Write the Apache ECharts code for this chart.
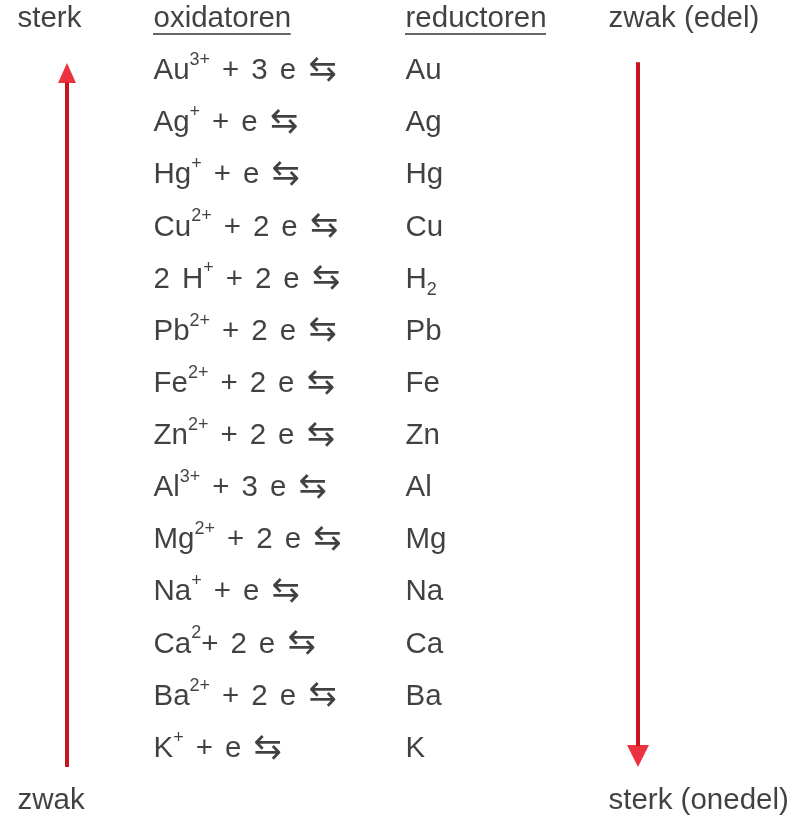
<!DOCTYPE html>
<html>
<head>
<meta charset="utf-8">
<title>oxidatoren en reductoren</title>
<script src="https://cdn.jsdelivr.net/npm/echarts@6/dist/echarts.min.js"></script>
<style>
html, body { margin: 0; padding: 0; background: #fff; }
#chart { width: 792px; height: 817px; }
</style>
</head>
<body>
<div id="chart"></div>
<script>
// kopregel en voetregel (per kolom)
var koppen = ['sterk', 'oxidatoren', 'reductoren', 'zwak (edel)'];
var voet = ['zwak', '', '', 'sterk (onedel)'];
// {..} = superscript, [..] = subscript
var oxidatoren = ['Au{3+} + 3 e', 'Ag{+} + e', 'Hg{+} + e', 'Cu{2+} + 2 e', '2 H{+} + 2 e',
    'Pb{2+} + 2 e', 'Fe{2+} + 2 e', 'Zn{2+} + 2 e', 'Al{3+} + 3 e', 'Mg{2+} + 2 e',
    'Na{+} + e', 'Ca{2}+ 2 e', 'Ba{2+} + 2 e', 'K{+} + e'];
var reductoren = ['Au', 'Ag', 'Hg', 'Cu', 'H[2]', 'Pb', 'Fe', 'Zn', 'Al', 'Mg', 'Na', 'Ca', 'Ba', 'K'];

// layout
var kolomX = [17, 153, 405, 608];
var pijlX = [67, 638];
var rijStap = 52.13, eersteRij = 71;
var font = '"Liberation Sans", Arial, sans-serif';
var fontSize = 29.5;
var kleur = '#111';

function rich(s) {
    return s.replace(/\{([^}]*)\}/g, '{sup|$1}').replace(/\[([^\]]*)\]/g, '{sub|$1}');
}
// spaties in de reactievergelijking zijn breder
function vergelijking(s) {
    return rich(s).split(' ').join('{sp| }') + '{sp| }{pijl|⇆}';
}

var tekstData = [];
koppen.forEach(function (t, c) {
    if (t) tekstData.push({ value: [kolomX[c], -1], tekst: t });
});
oxidatoren.forEach(function (t, i) {
    tekstData.push({ value: [kolomX[1], i], tekst: vergelijking(t) });
});
reductoren.forEach(function (t, i) {
    tekstData.push({ value: [kolomX[2], i], tekst: rich(t) });
});
voet.forEach(function (t, c) {
    if (t) tekstData.push({ value: [kolomX[c], 14], tekst: t });
});

// onderstreping koppen: breedte gemeten met canvas
var ctx = document.createElement('canvas').getContext('2d');
ctx.font = fontSize + 'px ' + font;
var streepData = [1, 2].map(function (c) {
    var w = ctx.measureText(koppen[c]).width;
    return { coords: [[kolomX[c], -0.71], [kolomX[c] + w, -0.71]] };
});

var chart = echarts.init(document.getElementById('chart'));
var yMin = -eersteRij / rijStap;
var option = {
    animation: false,
    grid: { left: 0, right: 0, top: 0, bottom: 0 },
    xAxis: { type: 'value', min: 0, max: 792, show: false },
    yAxis: { type: 'value', inverse: true, min: yMin, max: yMin + 817 / rijStap, show: false },
    series: [
        {
            type: 'lines',
            coordinateSystem: 'cartesian2d',
            silent: true,
            lineStyle: { color: '#c4161c', width: 4, opacity: 1 },
            data: [
                { coords: [[pijlX[0], 13.35], [pijlX[0], 0.22]] },
                { coords: [[pijlX[1], -0.17], [pijlX[1], 12.95]] }
            ]
        },
        {
            type: 'scatter',
            silent: true,
            symbol: 'triangle',
            itemStyle: { color: '#e5000f' },
            data: [
                { value: [pijlX[0], 0.04], symbolSize: [18, 20] },
                { value: [pijlX[1], 13.14], symbolSize: [22, 22], symbolRotate: 180 }
            ]
        },
        {
            type: 'lines',
            coordinateSystem: 'cartesian2d',
            silent: true,
            lineStyle: { color: '#333', width: 1.5, opacity: 1 },
            data: streepData
        },
        {
            type: 'scatter',
            silent: true,
            symbolSize: 1,
            itemStyle: { color: 'rgba(0,0,0,0)' },
            label: {
                show: true,
                position: 'right',
                distance: 0,
                color: kleur,
                fontFamily: font,
                fontSize: fontSize,
                lineHeight: 40,
                formatter: function (p) { return p.data.tekst; },
                rich: {
                    sup: { fontSize: 18, lineHeight: 8, verticalAlign: 'top', fontFamily: font, color: kleur },
                    sub: { fontSize: 18, lineHeight: 32, verticalAlign: 'bottom', fontFamily: font, color: kleur },
                    sp: { width: 12, fontSize: fontSize, fontFamily: font },
                    pijl: { fontSize: 34, fontFamily: '"DejaVu Sans", sans-serif', color: kleur }
                }
            },
            data: tekstData
        }
    ]
};
chart.setOption(option);
</script>
</body>
</html>
